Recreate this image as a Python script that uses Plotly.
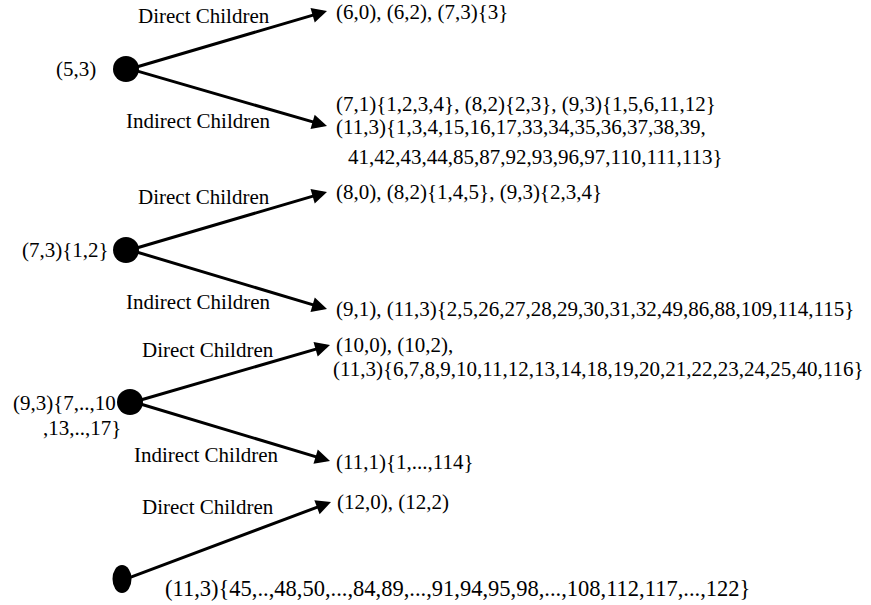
import plotly.graph_objects as go

# ---- data (text content of the diagram) ----
node_labels = ["(5,3)", "(7,3){1,2}", "(9,3){7,..,10", ""]
node_label2 = ["", "", ",13,..,17}", ""]
edge_labels_direct = ["Direct Children"] * 4
edge_labels_indirect = ["Indirect Children"] * 3
direct_children = [
    ["(6,0), (6,2), (7,3){3}"],
    ["(8,0), (8,2){1,4,5}, (9,3){2,3,4}"],
    ["(10,0), (10,2),", "(11,3){6,7,8,9,10,11,12,13,14,18,19,20,21,22,23,24,25,40,116}"],
    ["(12,0), (12,2)"],
]
indirect_children = [
    ["(7,1){1,2,3,4}, (8,2){2,3}, (9,3){1,5,6,11,12}",
     "(11,3){1,3,4,15,16,17,33,34,35,36,37,38,39,",
     "41,42,43,44,85,87,92,93,96,97,110,111,113}"],
    ["(9,1), (11,3){2,5,26,27,28,29,30,31,32,49,86,88,109,114,115}"],
    ["(11,1){1,...,114}"],
]
last_node_text = "(11,3){45,..,48,50,...,84,89,...,91,94,95,98,...,108,112,117,...,122}"

# ---- layout geometry (pixel-like coordinates) ----
node_x = [126, 126, 130, 122]
node_y = [69, 250, 402, 579]
node_rx = [13, 13, 13, 9.5]
node_ry = [13, 13, 13, 14]
direct_tip = [(327, 11), (327, 192), (330, 345), (331, 502)]
indirect_tip = [(327, 126), (327, 309), (330, 461)]
direct_lab_pos = [(204, 16), (204, 197), (208, 350), (208, 507)]
indirect_lab_pos = [(198, 121), (198, 302), (206, 455)]
direct_text_pos = [[(334, 12)], [(334, 192)], [(334, 345), (331, 369)], [(335, 502)]]
indirect_text_pos = [[(334, 104), (334, 127), (346, 157)], [(334, 309)], [(334, 462)]]
node_label_pos = [(98, 69), (111, 250), (118, 403), None]
node_label2_pos = [None, None, (123, 428), None]
last_text_pos = (163, 588)

FONT = dict(family="Liberation Serif, Times New Roman, serif", size=21, color="black")
FONT_LAST = dict(family="Liberation Serif, Times New Roman, serif", size=22.5, color="black")

fig = go.Figure()
fig.add_trace(go.Scatter(x=[0, 871], y=[0, 605], mode="markers",
                         marker=dict(opacity=0), hoverinfo="skip", showlegend=False))

shapes = []
for cx, cy, rx, ry in zip(node_x, node_y, node_rx, node_ry):
    shapes.append(dict(type="circle", xref="x", yref="y",
                       x0=cx - rx, x1=cx + rx, y0=cy - ry, y1=cy + ry,
                       fillcolor="black", line=dict(color="black", width=0)))

ann = []
def arrow(x0, y0, x1, y1):
    ann.append(dict(x=x1, y=y1, ax=x0, ay=y0, xref="x", yref="y", axref="x", ayref="y",
                    text="", showarrow=True, arrowhead=2, arrowsize=1.0, arrowwidth=3,
                    arrowcolor="black", standoff=0, startstandoff=0))

def label(x, y, t, anchor="left", font=FONT):
    ann.append(dict(x=x, y=y, xref="x", yref="y", text=t, showarrow=False,
                    xanchor=anchor, yanchor="middle", font=font))

for i in range(4):
    arrow(node_x[i] + 4, node_y[i], *direct_tip[i])
    label(*direct_lab_pos[i], edge_labels_direct[i], "center")
    for t, p in zip(direct_children[i], direct_text_pos[i]):
        label(*p, t)
    if node_label_pos[i] is not None:
        label(*node_label_pos[i], node_labels[i], "right")
    if node_label2_pos[i] is not None:
        label(*node_label2_pos[i], node_label2[i], "right")
for i in range(3):
    arrow(node_x[i] + 4, node_y[i], *indirect_tip[i])
    label(*indirect_lab_pos[i], edge_labels_indirect[i], "center")
    for t, p in zip(indirect_children[i], indirect_text_pos[i]):
        label(*p, t)
label(*last_text_pos, last_node_text, font=FONT_LAST)

fig.update_layout(
    width=871, height=605, margin=dict(l=0, r=0, t=0, b=0),
    paper_bgcolor="white", plot_bgcolor="white",
    xaxis=dict(range=[0, 871], visible=False, fixedrange=True),
    yaxis=dict(range=[605, 0], visible=False, fixedrange=True),
    shapes=shapes, annotations=ann, showlegend=False,
)
fig.write_html("out.html", config={"displayModeBar": False},
               post_script="document.body.style.margin='0px';document.body.style.overflow='hidden';")
